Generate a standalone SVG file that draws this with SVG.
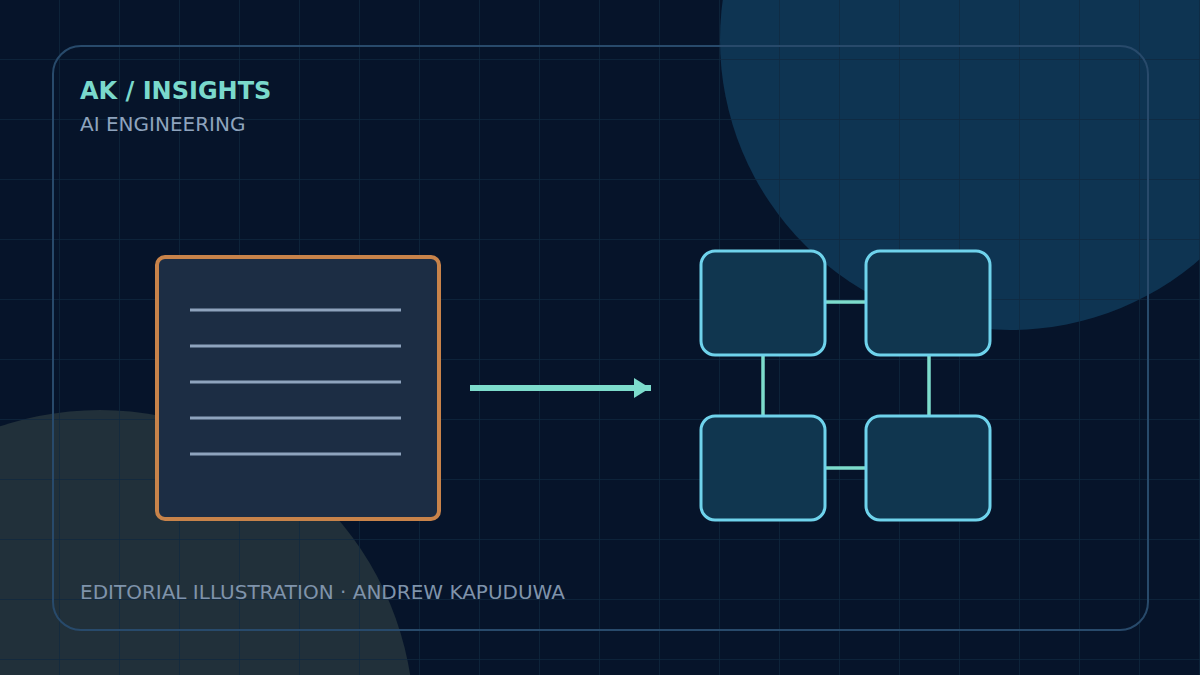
<svg xmlns="http://www.w3.org/2000/svg" width="1200" height="675" viewBox="0 0 1200 675">
<defs>
<pattern id="grid" width="60" height="60" patternUnits="userSpaceOnUse"><path d="M60 0V60M0 60H60" fill="none" stroke="#0f2840" stroke-width="1.4"/></pattern>
<style>
.n{fill:#10364f;stroke:#6fd3ec;stroke-width:3}
.c{stroke:#7ddccc;stroke-width:3.5}
.l{stroke:#8ea3bd;stroke-width:3}
text{font-family:"DejaVu Sans",sans-serif}
</style>
</defs>
<rect width="1200" height="675" fill="#06142a"/>
<circle cx="1010" cy="40" r="290" fill="#0e3452"/>
<circle cx="100" cy="724" r="314" fill="#21303a"/>
<rect width="1200" height="675" fill="url(#grid)"/>
<rect x="53" y="46" width="1095" height="584" rx="28" fill="none" stroke="#284a6b" stroke-width="2"/>
<text x="80" y="99" font-size="24" font-weight="bold" fill="#7ad9cc">AK / INSIGHTS</text>
<text x="80" y="131" font-size="20" fill="#8ea3bd">AI ENGINEERING</text>
<text x="80" y="599" font-size="20" fill="#7f93ab">EDITORIAL ILLUSTRATION · ANDREW KAPUDUWA</text>
<g id="doc">
<rect x="157" y="257" width="282" height="262" rx="8" fill="#1c2d44" stroke="#c8834a" stroke-width="4"/>
<line class="l" x1="190" y1="310" x2="401" y2="310"/>
<line class="l" x1="190" y1="346" x2="401" y2="346"/>
<line class="l" x1="190" y1="382" x2="401" y2="382"/>
<line class="l" x1="190" y1="418" x2="401" y2="418"/>
<line class="l" x1="190" y1="454" x2="401" y2="454"/>
</g>
<g id="connectors">
<line x1="470" y1="388" x2="651" y2="388" stroke="#7ddccc" stroke-width="6"/>
<polygon points="634,378 650,388 634,398" fill="#7ddccc"/>
<line class="c" x1="825" y1="302" x2="866" y2="302"/>
<line class="c" x1="825" y1="468" x2="866" y2="468"/>
<line class="c" x1="763" y1="355" x2="763" y2="416"/>
<line class="c" x1="929" y1="355" x2="929" y2="416"/>
</g>
<g id="n1"><rect class="n" x="701" y="251" width="124" height="104" rx="14"/></g>
<g id="n2"><rect class="n" x="866" y="251" width="124" height="104" rx="14"/></g>
<g id="n3"><rect class="n" x="701" y="416" width="124" height="104" rx="14"/></g>
<g id="n4"><rect class="n" x="866" y="416" width="124" height="104" rx="14"/></g>
</svg>
